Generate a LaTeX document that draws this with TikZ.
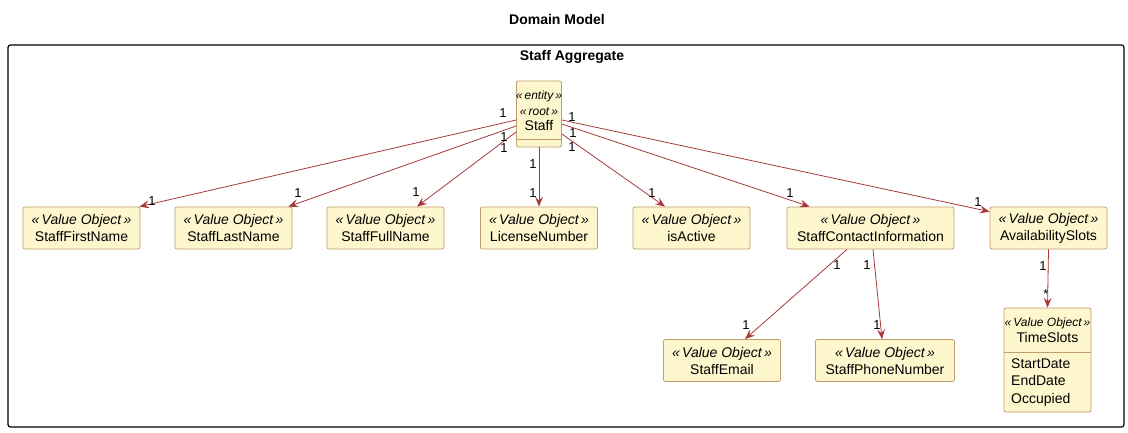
\documentclass[tikz,border=0pt]{standalone}
\usepackage{fontspec}
\setmainfont{Liberation Sans}
\usetikzlibrary{arrows.meta}

\definecolor{boxfill}{HTML}{FEF6CD}
\definecolor{boxline}{HTML}{BF9F6F}
\definecolor{assocred}{HTML}{A83838}

\newcommand{\stereo}[1]{\textit{«\,#1\,»}}

\begin{document}
\begin{tikzpicture}[x=1pt, y=-1pt]

\def\boxheight{42};
\def\rowy{228};
\tikzset{value object/.style={
    rectangle,
    draw=boxline,
    fill=boxfill,
    line width=0.8pt,
    rounded corners=2pt,
    align=center,
    inner sep=0pt,
    font=\fontsize{14}{17}\selectfont,
    minimum height=\boxheight
}};
\tikzset{assoc/.style={
    draw=assocred,
    line width=0.8pt,
    -{Stealth[length=10pt, width=8pt, inset=4pt]}
}};
\tikzset{mult/.style={
    inner sep=0pt,
    font=\fontsize{13}{13}\selectfont
}};

\useasboundingbox (0,0) rectangle (1128,433);

\node[font=\bfseries\fontsize{14}{16}\selectfont] (title) at (557,19) {Domain Model};
\draw[line width=1.2pt, rounded corners=2.5pt] (8,45) rectangle (1124,427);
\node[font=\bfseries\fontsize{14}{16}\selectfont] (aggregate) at (572,57) {Staff Aggregate};

% aggregate root
\node[value object, minimum width=45, minimum height=66] (staff) at (539,114) {};
\draw[boxline, line width=0.8pt] ([yshift=8pt]staff.south west) -- ([yshift=8pt]staff.south east);
\node[align=center, inner sep=0pt, font=\fontsize{12}{15.5}\selectfont] (staff text) at (539,111)
    {\stereo{entity}\\\stereo{root}\\\fontsize{14}{15.5}\selectfont Staff};

% value objects
\foreach \name/\txt/\xpos/\wid in {first/StaffFirstName/81.5/117,
    last/StaffLastName/233.5/117, full/StaffFullName/385.5/117,
    license/LicenseNumber/539/117, active/isActive/691.5/117,
    contact/StaffContactInformation/870.5/167, avail/AvailabilitySlots/1048.5/117} {
    \node[value object, minimum width=\wid] (\name) at (\xpos,\rowy) {\stereo{Value Object}\\\txt};
}

\node[value object, minimum width=117] (email) at (722,360.5) {\stereo{Value Object}\\StaffEmail};
\node[value object, minimum width=139] (phone) at (885,360.5) {\stereo{Value Object}\\StaffPhoneNumber};

\node[value object, minimum width=87, minimum height=104] (slots) at (1047.5,360) {};
\draw[boxline, line width=0.8pt] (slots.west |- 0,352) -- (slots.east |- 0,352);
\node[align=center, inner sep=0pt, font=\fontsize{12}{16.5}\selectfont] (slots title) at (1047.5,330)
    {\stereo{Value Object}\\\fontsize{14}{16.5}\selectfont TimeSlots};
\node[align=left, anchor=west, inner sep=0pt, font=\fontsize{14}{17.5}\selectfont] (slots attrs) at (1011,382.5)
    {StartDate\\EndDate\\Occupied};

% associations
\draw[assoc] ([yshift=-6pt]staff.west) -- ([xshift=-1pt]first.north east);
\draw[assoc] ([yshift=-12pt]staff.west) -- ([xshift=-4pt]last.north east);
\draw[assoc] ([yshift=-18pt]staff.west) -- ([xshift=31.5pt]full.north);
\draw[assoc] (staff.south) -- (license.north);
\draw[assoc] ([yshift=-20pt]staff.east) -- ([xshift=-26.5pt]active.north);
\draw[assoc] ([yshift=-10pt]staff.east) -- ([xshift=23pt]contact.north west);
\draw[assoc] ([yshift=-6pt]staff.east) -- ([yshift=-5pt]avail.north west);
\draw[assoc] ([xshift=-23.5pt]contact.south) -- ([xshift=23pt]email.north);
\draw[assoc] ([xshift=2.5pt]contact.south) -- ([xshift=-3pt]phone.north);
\draw[assoc] (avail.south) -- (slots.north);

% multiplicities
\foreach \pos [count=\i] in {(503,113), (504,137), (504,148), (572,117), (573,133),
    (572,147), (533,164), (533,193), (152,201), (298,193), (416,192), (652,193),
    (790,193), (978,202), (837,265), (867,265), (746,325), (877,325), (1043,266)} {
    \node[mult] (mult\i) at \pos {1};
}
\node[mult] (many) at (1046,294) {*};

\end{tikzpicture}
\end{document}
